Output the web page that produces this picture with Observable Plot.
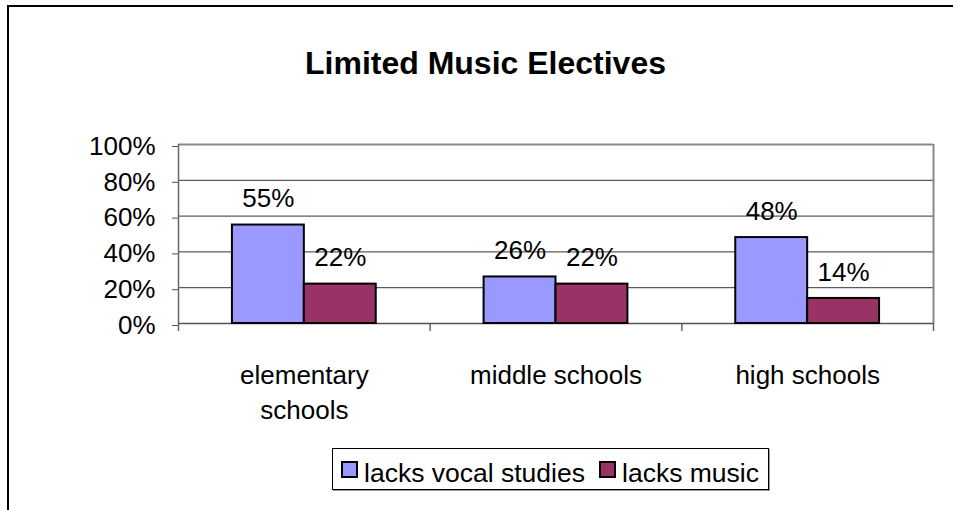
<!DOCTYPE html>
<html><head><meta charset="utf-8">
<script src="https://cdn.jsdelivr.net/npm/d3@7"></script>
<script src="https://cdn.jsdelivr.net/npm/@observablehq/plot@0.6"></script>
<style>
body{margin:0;background:#fff;font-family:"Liberation Sans",Arial,sans-serif;}
#wrap{position:relative;width:953px;height:510px;overflow:hidden;background:#fff;}
#border{position:absolute;left:7px;top:5px;width:1000px;height:600px;border-left:2.5px solid #000;border-top:2.5px solid #000;box-sizing:border-box;}
#chart{position:absolute;left:0;top:0;}
#title{position:absolute;left:0;width:971px;top:47px;text-align:center;font-weight:bold;font-size:32px;line-height:32px;color:#000;}
#legend{position:absolute;left:332px;top:448px;width:437px;height:42px;border:1px solid #000;box-shadow:1px 1px 0 #999;box-sizing:border-box;font-size:26.5px;color:#000;}
.item{position:absolute;top:0;height:40px;line-height:40px;white-space:nowrap;}
.sw{position:absolute;top:12px;width:17px;height:17px;border:2px solid #000;box-sizing:border-box;}
.lab{position:absolute;left:23px;top:4px;}
</style></head>
<body>
<div id="wrap">
  <div id="border"></div>
  <div id="chart"></div>
  <div id="title"></div>
  <div id="legend"></div>
</div>
<script>
const title = "Limited Music Electives";
const categories = ["elementary\nschools", "middle schools", "high schools"];
const series = ["lacks vocal studies", "lacks music"];
const vocal = [55, 26, 48];
const music = [22, 22, 14];
const yTicks = [0, 20, 40, 60, 80, 100];
const colors = ["#9999FF", "#993366"];

const seriesValues = [vocal, music];
const rows = [];
categories.forEach((c, i) => series.forEach((s, k) => rows.push({i, c, k, s, value: seriesValues[k][i]})));

const gapWidth = 1.5; // Excel gap width 150%
const w = 1 / (series.length + gapWidth);
const font = '"Liberation Sans", Arial, sans-serif';

const chart = Plot.plot({
  width: 953,
  height: 510,
  marginLeft: 178,
  marginRight: 20,
  marginTop: 144,
  marginBottom: 187,
  style: {fontFamily: font, color: "#000", background: "transparent", overflow: "visible"},
  x: {type: "linear", domain: [-0.5, categories.length - 0.5], axis: null, label: null},
  y: {domain: [0, 100], axis: null, label: null},
  color: {domain: series, range: colors},
  marks: [
    Plot.ruleY(yTicks.filter(t => t > 0 && t < 100), {stroke: "#333", strokeWidth: 1}),
    Plot.ruleY([100], {stroke: "#888", strokeWidth: 2}),
    Plot.ruleX([categories.length - 0.5], {y1: 0, y2: 100, stroke: "#888", strokeWidth: 2}),
    Plot.axisX({ticks: [-0.5, 0.5, 1.5, 2.5], tickFormat: () => "", tickSize: 8, stroke: "#666", strokeWidth: 1.5, label: null}),
    Plot.axisX({ticks: categories.map((c, i) => i), tickFormat: i => categories[i], tickSize: 0, tickPadding: 35.5, fontSize: 26, lineHeight: 1.35, fill: "#000", label: null}),
    Plot.axisY({ticks: yTicks, tickFormat: d => d + "%", tickSize: 6, tickPadding: 17, fontSize: 26, dy: 2, stroke: "#555", fill: "#000", label: null}),
    Plot.ruleX([-0.5], {y1: 0, y2: 100, stroke: "#666", strokeWidth: 1.5}),
    Plot.ruleY([0], {stroke: "#555", strokeWidth: 1.5}),
    Plot.rectY(rows, {
      x1: d => d.i + (d.k - 1) * w,
      x2: d => d.i + d.k * w,
      y: "value",
      fill: "s",
      stroke: "#000",
      strokeWidth: 2
    }),
    Plot.text(rows, {
      x: d => d.i + (d.k - 0.5) * w,
      y: "value",
      text: d => d.value + "%",
      dy: -26,
      fontSize: 26,
      fill: "#000"
    })
  ]
});
document.getElementById("chart").appendChild(chart);
document.getElementById("title").textContent = title;

const legend = document.getElementById("legend");
const offsets = [8, 266];
series.forEach((s, k) => {
  const item = document.createElement("div");
  item.className = "item";
  item.style.left = offsets[k] + "px";
  const sw = document.createElement("div");
  sw.className = "sw";
  sw.style.background = colors[k];
  const lab = document.createElement("div");
  lab.className = "lab";
  lab.textContent = s;
  item.appendChild(sw);
  item.appendChild(lab);
  legend.appendChild(item);
});
</script>
</body></html>
